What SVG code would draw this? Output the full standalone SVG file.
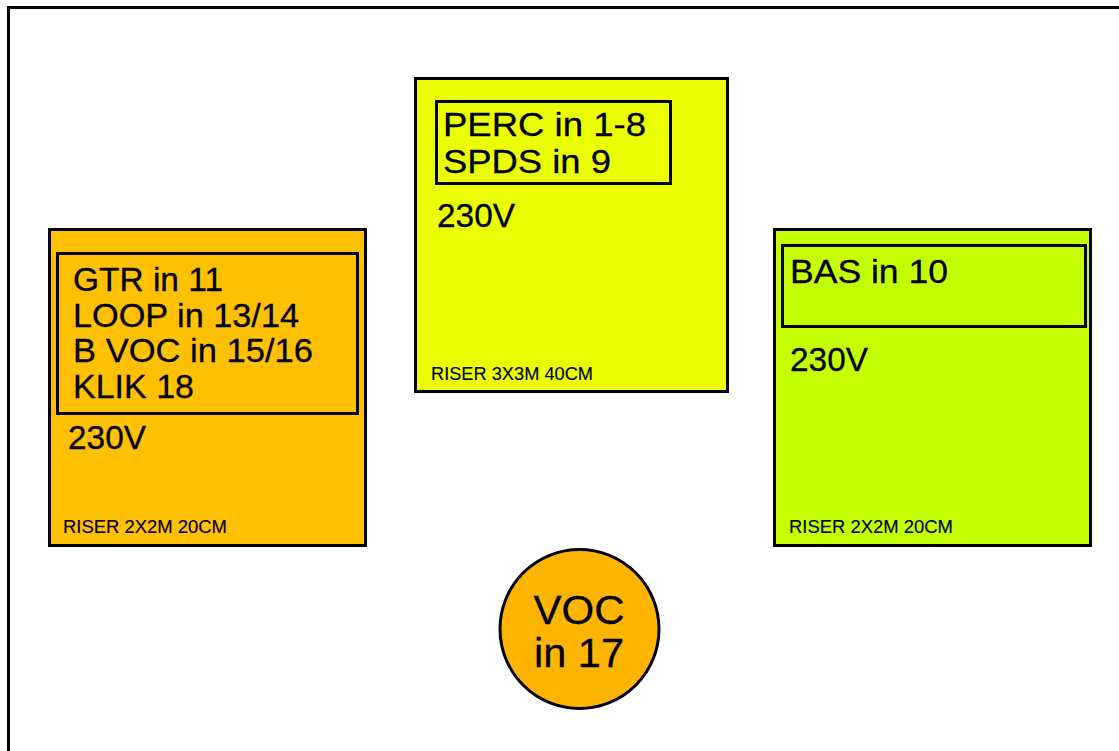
<svg xmlns="http://www.w3.org/2000/svg" width="1119" height="751" viewBox="0 0 1119 751">
<style>
  .frame{fill:none;stroke:#000;stroke-width:3}
  .box{stroke:#000;stroke-width:3}
  .inner{fill:none;stroke:#000;stroke-width:3}
  .big{font-family:"Liberation Sans",Arial,sans-serif;font-size:34px;fill:#000;stroke:#000;stroke-width:0.3}
  .small{font-family:"Liberation Sans",Arial,sans-serif;font-size:18px;fill:#000;stroke:#000;stroke-width:0.15}
  .circ{font-family:"Liberation Sans",Arial,sans-serif;font-size:40px;fill:#000;stroke:#000;stroke-width:0.3;text-anchor:middle}
</style>
<rect width="1119" height="751" fill="#fff"/>
<rect class="frame" x="8.5" y="7.5" width="1130" height="760"/>
<g id="riser-left">
  <rect class="box" x="49.5" y="229.5" width="316" height="316" fill="#FFC000"/>
  <rect class="inner" x="57.5" y="253.5" width="300" height="160"/>
  <text class="big" x="73" y="291" textLength="150" lengthAdjust="spacingAndGlyphs">GTR in 11</text>
  <text class="big" x="73" y="327" textLength="226" lengthAdjust="spacingAndGlyphs">LOOP in 13/14</text>
  <text class="big" x="73" y="362" textLength="240" lengthAdjust="spacingAndGlyphs">B VOC in 15/16</text>
  <text class="big" x="73" y="398" textLength="121" lengthAdjust="spacingAndGlyphs">KLIK 18</text>
  <text class="big" x="68" y="449" textLength="78" lengthAdjust="spacingAndGlyphs">230V</text>
  <text class="small" x="63" y="533" textLength="164" lengthAdjust="spacingAndGlyphs">RISER 2X2M 20CM</text>
</g>
<g id="riser-center">
  <rect class="box" x="415.5" y="78.5" width="312" height="313" fill="#EAFF00"/>
  <rect class="inner" x="436.5" y="101.5" width="234" height="82"/>
  <text class="big" x="443" y="136" textLength="203" lengthAdjust="spacingAndGlyphs">PERC in 1-8</text>
  <text class="big" x="443" y="173" textLength="168" lengthAdjust="spacingAndGlyphs">SPDS in 9</text>
  <text class="big" x="437" y="227" textLength="78" lengthAdjust="spacingAndGlyphs">230V</text>
  <text class="small" x="431" y="380" textLength="162" lengthAdjust="spacingAndGlyphs">RISER 3X3M 40CM</text>
</g>
<g id="riser-right">
  <rect class="box" x="774.5" y="229.5" width="316" height="316" fill="#C4FF00"/>
  <rect class="inner" x="782.5" y="245.5" width="303" height="81"/>
  <text class="big" x="790" y="283" textLength="158" lengthAdjust="spacingAndGlyphs">BAS in 10</text>
  <text class="big" x="790" y="371" textLength="78" lengthAdjust="spacingAndGlyphs">230V</text>
  <text class="small" x="789" y="533" textLength="164" lengthAdjust="spacingAndGlyphs">RISER 2X2M 20CM</text>
</g>
<g id="voc">
  <circle cx="579.5" cy="629" r="79.5" fill="#FFB400" stroke="#000" stroke-width="3"/>
  <text class="circ" x="579" y="624" textLength="91" lengthAdjust="spacingAndGlyphs">VOC</text>
  <text class="circ" x="579" y="667" textLength="90" lengthAdjust="spacingAndGlyphs">in 17</text>
</g>
<g id="connectors"/>
</svg>
